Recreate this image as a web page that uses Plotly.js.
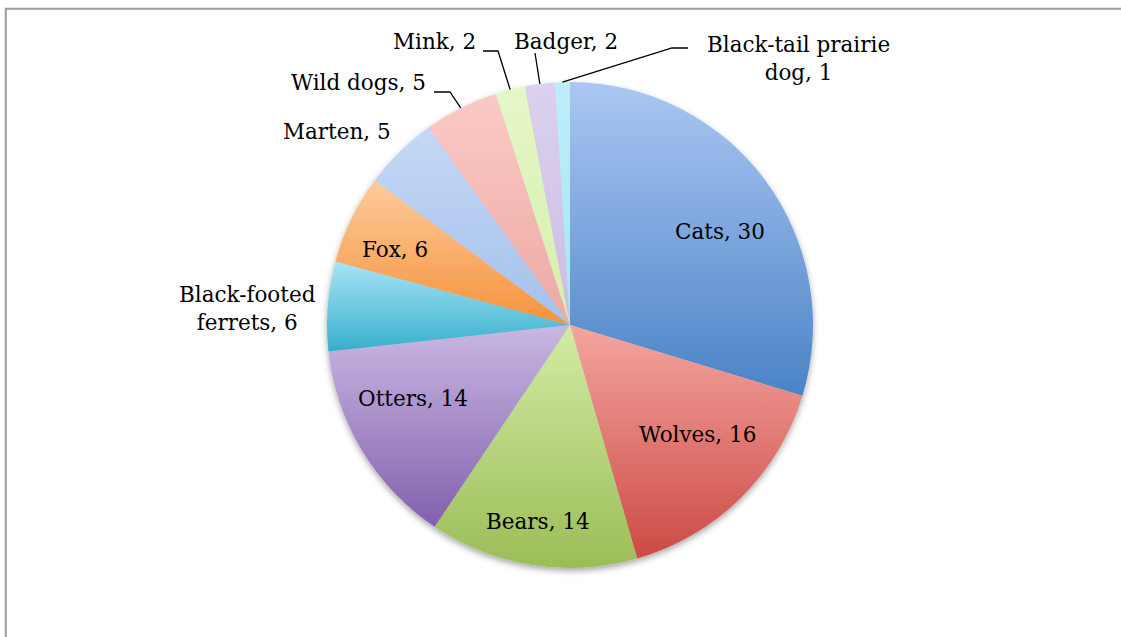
<!DOCTYPE html>
<html>
<head>
<meta charset="utf-8">
<script src="https://cdn.plot.ly/plotly-3.0.1.min.js"></script>
<style>
html,body{margin:0;padding:0;background:#fff;}
#chart{width:1121px;height:637px;}
</style>
</head>
<body>
<div id="chart"></div>
<script>
// ---- data ----
const categories = ['Cats','Wolves','Bears','Otters','Black-footed ferrets','Fox','Marten','Wild dogs','Mink','Badger','Black-tail prairie dog'];
const values = [30,16,14,14,6,6,5,5,2,2,1];
const labelTexts = ['Cats, 30','Wolves, 16','Bears, 14','Otters, 14','Black-footed<br>ferrets, 6','Fox, 6','Marten, 5','Wild dogs, 5','Mink, 2','Badger, 2','Black-tail prairie<br>dog, 1'];

// ---- style / layout ----
const W = 1121, H = 637;
const CX = 570, CY = 325, R = 243;
const gradTop = ['#abc7f3','#f4a5a0','#d3eba5','#c9b8e2','#a8e4f4','#fecb9d','#c5d9f5','#fbcac6','#e6f7c8','#dcd1ee','#bdeefa'];
const gradBot = ['#4a83c6','#cc4a44','#9bbd56','#8260ad','#36afcc','#f6923c','#a4c0ec','#eda8a3','#d5eeab','#cbbce3','#a6e5f4'];
// label centre positions in pixels
const labelPx = [[720,231],[697,434],[538,521],[413,398],[247,308],[395,249],[337,131],[358,83],[434,42],[566,42],[798,58]];
// leader lines: [labelEnd, elbow] in pixels (anchor computed from slice angle)
const leaders = {7:[[434,92],[450,92]], 8:[[483,51],[498,51]], 9:[[535,53],[535,53]], 10:[[688,48],[672,48]]};

const px = x => x / W;
const py = y => 1 - y / H;

const total = values.reduce((a,b)=>a+b,0);
function sliceAnchor(i){
  let before = 0;
  for(let k=0;k<i;k++) before += values[k];
  const mid = (before + values[i]/2) / total * 2 * Math.PI;
  return [CX + R*Math.sin(mid), CY - R*Math.cos(mid)];
}

const font = {family:'DejaVu Serif, serif', size:21.5, color:'#000'};

const annotations = labelTexts.map((t,i)=>({
  text:t, x:px(labelPx[i][0]), y:py(labelPx[i][1]), xref:'paper', yref:'paper',
  xanchor:'center', yanchor:'middle', showarrow:false, font:font, align:'center'
}));

const shapes = [];
Object.keys(leaders).forEach(k=>{
  const i = +k;
  const [a,b] = leaders[i];
  const c = sliceAnchor(i);
  const path = `M ${px(a[0])} ${py(a[1])} L ${px(b[0])} ${py(b[1])} L ${px(c[0])} ${py(c[1])}`;
  shapes.push({type:'path', xref:'paper', yref:'paper', path:path, line:{color:'#000', width:1.3}});
});
// chart-area border
shapes.push({type:'line', xref:'paper', yref:'paper', x0:px(5), x1:1, y0:py(8.8), y1:py(8.8), line:{color:'#9c9c9c', width:2}});
shapes.push({type:'line', xref:'paper', yref:'paper', x0:px(5.8), x1:px(5.8), y0:py(8), y1:0, line:{color:'#9c9c9c', width:2}});

const trace = {
  type:'pie', labels:categories, values:values, sort:false, direction:'clockwise', rotation:0,
  textinfo:'none', hoverinfo:'label+value',
  marker:{colors:gradTop, line:{width:0}},
  domain:{x:[px(CX-R), px(CX+R)], y:[py(CY+R), py(CY-R)]},
  showlegend:false
};

const layout = {
  width:W, height:H, margin:{l:0,r:0,t:0,b:0},
  paper_bgcolor:'#fff', plot_bgcolor:'#fff',
  showlegend:false, annotations:annotations, shapes:shapes
};

Plotly.newPlot('chart',[trace],layout,{staticPlot:true, displayModeBar:false}).then(gd=>{
  const svg = gd.querySelector('svg.main-svg');
  const NS = 'http://www.w3.org/2000/svg';
  const defs = document.createElementNS(NS,'defs');
  gradTop.forEach((c,i)=>{
    const g = document.createElementNS(NS,'linearGradient');
    g.setAttribute('id','sg'+i); g.setAttribute('x1','0'); g.setAttribute('y1','0');
    g.setAttribute('x2','0'); g.setAttribute('y2','1');
    const s1 = document.createElementNS(NS,'stop'); s1.setAttribute('offset','0'); s1.setAttribute('stop-color',c);
    const s2 = document.createElementNS(NS,'stop'); s2.setAttribute('offset','1'); s2.setAttribute('stop-color',gradBot[i]);
    g.appendChild(s1); g.appendChild(s2); defs.appendChild(g);
  });
  const f = document.createElementNS(NS,'filter');
  f.setAttribute('id','pieshadow'); f.setAttribute('x','-10%'); f.setAttribute('y','-10%');
  f.setAttribute('width','120%'); f.setAttribute('height','125%');
  const ds = document.createElementNS(NS,'feDropShadow');
  ds.setAttribute('dx','0'); ds.setAttribute('dy','3'); ds.setAttribute('stdDeviation','3');
  ds.setAttribute('flood-color','#000'); ds.setAttribute('flood-opacity','0.35');
  f.appendChild(ds); defs.appendChild(f);
  svg.insertBefore(defs, svg.firstChild);
  const paths = gd.querySelectorAll('g.slice path.surface');
  paths.forEach((p,i)=>{ p.style.fill = 'url(#sg'+i+')'; });
  const tr = gd.querySelector('g.pielayer g.trace');
  if(tr) tr.setAttribute('filter','url(#pieshadow)');
});
</script>
</body>
</html>
